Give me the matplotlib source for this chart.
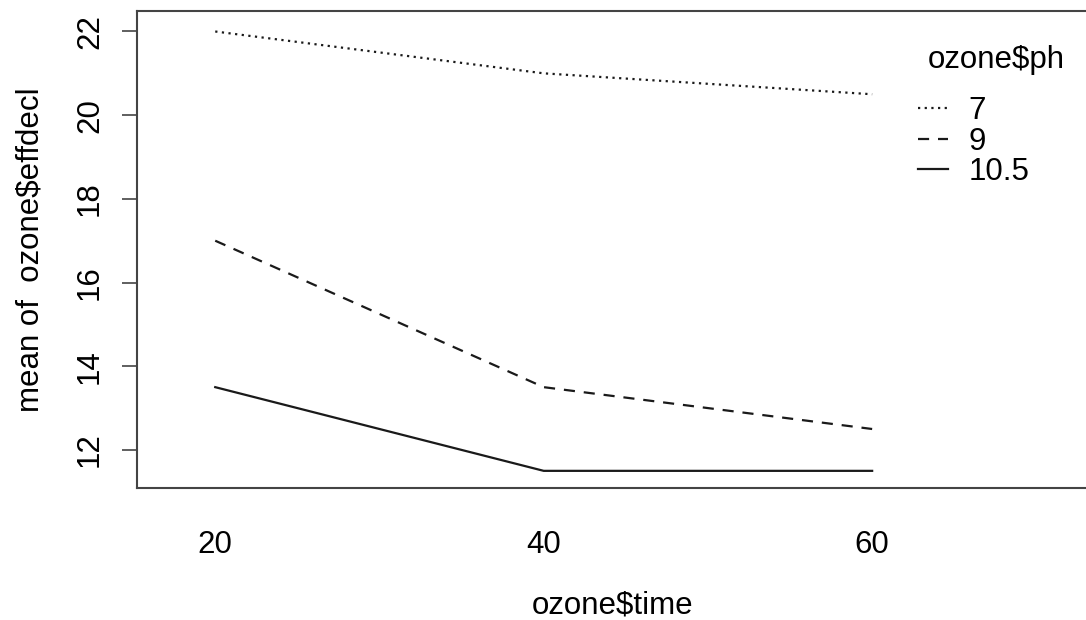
import matplotlib
matplotlib.use("Agg")
import matplotlib.pyplot as plt

plt.rcParams['font.family'] = ['Liberation Sans', 'DejaVu Sans']

# interaction plot: mean effdecl by time, one trace per ph
times = ['20', '40', '60']
ph_levels = ['7', '9', '10.5']
ph7 = [22.0, 21.0, 20.5]
ph9 = [17.0, 13.5, 12.5]
ph105 = [13.5, 11.5, 11.5]
styles = [(0, (1, 2)), (0, (5, 4)), '-']

fs = 22.5
fig = plt.figure(figsize=(10.86, 6.2), dpi=100)
ax = fig.add_axes([0.1262, 0.2129, 0.8765, 0.7687])

x = range(1, len(times) + 1)
for ys, lab, ls in zip([ph7, ph9, ph105], ph_levels, styles):
    ax.plot(x, ys, color='#1a1a1a', lw=1.6, linestyle=ls, label=lab)

ax.set_xlim(0.762, 3.66)
ax.set_ylim(11.09, 22.48)
ax.set_xticks(list(x))
ax.set_xticklabels(times)
ax.set_yticks([12, 14, 16, 18, 20, 22])
ax.tick_params(axis='x', length=0, pad=30, labelsize=fs)
ax.tick_params(axis='y', length=11, width=1.2, color='#444444', pad=12,
               labelsize=fs, labelrotation=90)
for t in ax.get_yticklabels():
    t.set_verticalalignment('center')
for s in ax.spines.values():
    s.set_color('#444444')
    s.set_linewidth(1.5)
ax.spines['right'].set_visible(False)

ax.set_xlabel('ozone$time', fontsize=fs, labelpad=22)
ax.set_ylabel('mean of  ozone$effdecl', fontsize=fs, labelpad=21)

# legend title drawn on its own, R puts a gap below it
fig.text(0.8545, 1 - 60 / 620, 'ozone$ph', fontsize=fs, va='center', ha='left')
leg = fig.legend(frameon=False, fontsize=fs, loc='upper left',
                 bbox_to_anchor=(0.8453, 0.845), handlelength=0.97,
                 handletextpad=0.65, labelspacing=0.02, borderpad=0,
                 borderaxespad=0)
for h in leg.get_lines():
    h.set_linewidth(1.6)

fig.savefig('out.png', dpi=100)
